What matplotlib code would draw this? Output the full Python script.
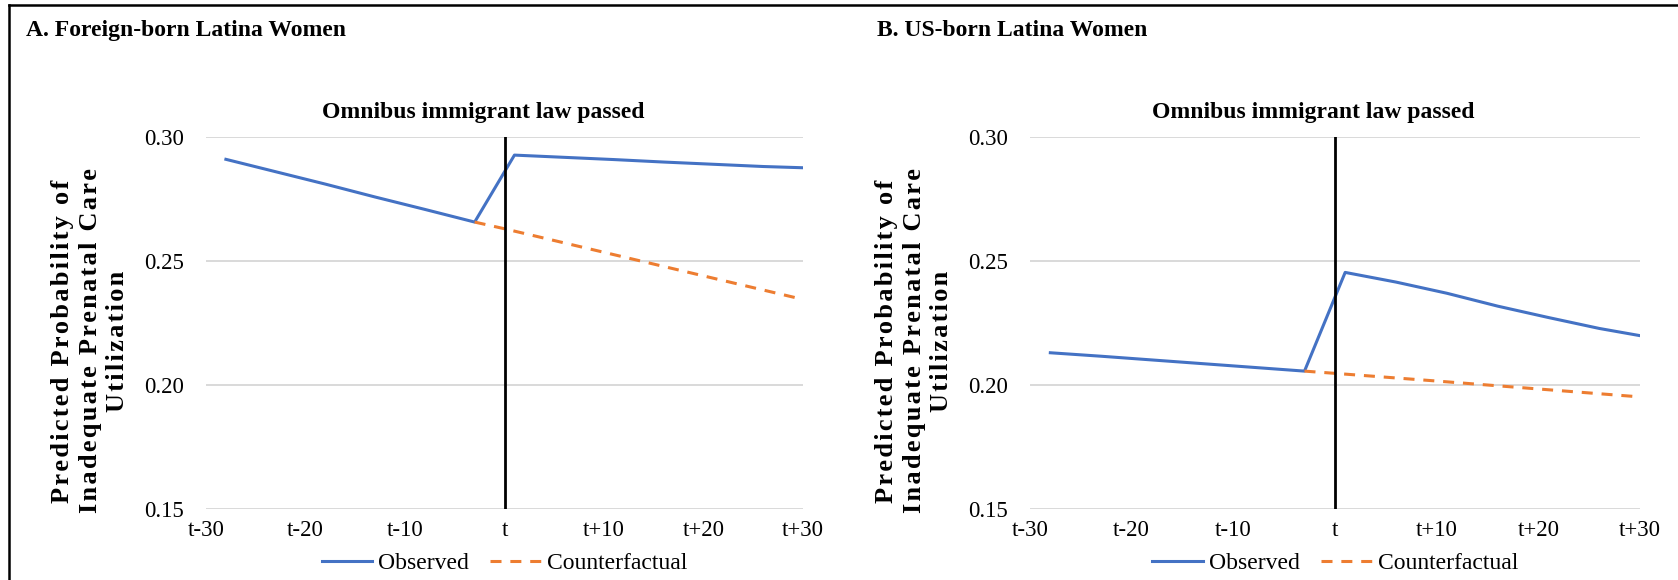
import matplotlib
matplotlib.use('Agg')
import matplotlib.pyplot as plt
from matplotlib.lines import Line2D

plt.rcParams['font.family'] = ['Liberation Serif', 'DejaVu Serif']

# Months relative to passage of the law (t = 0)
obs_months = [-28, -23, -18, -13, -8, -3, 1, 6, 11, 16, 21, 26, 30]
cf_months = [-3, 0, 10, 20, 30]

# A. Foreign-born
fb_observed = [0.2910, 0.2860, 0.2810, 0.2758, 0.2708, 0.2657,
               0.2927, 0.2918, 0.2909, 0.2899, 0.2890, 0.2881, 0.2876]
fb_counterfactual = [0.2657, 0.2630, 0.2535, 0.2440, 0.2345]

# B. US-born
us_observed = [0.2130, 0.2116, 0.2101, 0.2086, 0.2071, 0.2056,
               0.2454, 0.2415, 0.2370, 0.2318, 0.2272, 0.2228, 0.2199]
us_counterfactual = [0.2056, 0.2047, 0.2016, 0.1984, 0.1952]

tick_pos = [-30, -20, -10, 0, 10, 20, 30]
tick_labels = ['t-30', 't-20', 't-10', 't', 't+10', 't+20', 't+30']
y_ticks = [0.15, 0.20, 0.25, 0.30]

ylabel_lines = ['Predicted Probability of', 'Inadequate Prenatal Care', 'Utilization']

panels = [
    ('A. Foreign-born Latina Women', fb_observed, fb_counterfactual),
    ('B. US-born Latina Women', us_observed, us_counterfactual),
]


def spaced(s):
    # open up the letter spacing a little with hair spaces
    return '\u200a'.join(s)


W, H = 1678, 580
fig = plt.figure(figsize=(W / 100, H / 100), dpi=100)

# pixel boxes of the two plot areas: (left, right)
boxes = [(206, 803), (1030, 1640)]
title_x = [26, 877]
ylabel_x = [90, 914]
top_px, bot_px = 137, 509

BLUE = '#4472C4'
ORANGE = '#ED7D31'

for (title, obs, cf), (l, r), tx, yx in zip(panels, boxes, title_x, ylabel_x):
    ax = fig.add_axes([l / W, 1 - bot_px / H, (r - l) / W, (bot_px - top_px) / H])
    ax.set_xlim(-30, 30)
    ax.set_ylim(0.15, 0.30)
    ax.set_yticks(y_ticks)
    ax.set_yticklabels([f'{v:.2f}' for v in y_ticks])
    ax.set_xticks(tick_pos)
    ax.set_xticklabels(tick_labels)
    ax.tick_params(axis='both', length=0, labelsize=16.5)
    ax.tick_params(axis='y', pad=16)
    ax.tick_params(axis='x', pad=8)
    for s in ax.spines.values():
        s.set_visible(False)
    ax.grid(axis='y', color='#D9D9D9', linewidth=1.4)
    ax.set_axisbelow(True)

    ax.plot(obs_months, obs, color=BLUE, linewidth=2.2, label='Observed', zorder=3)
    ax.plot(cf_months, cf, color=ORANGE, linewidth=2.2, dashes=(3.6, 2.9),
            label='Counterfactual', zorder=3)
    ax.axvline(0, color='black', linewidth=2, zorder=4)

    ax.text(0.465, (bot_px - 118) / (bot_px - top_px), 'Omnibus immigrant law passed',
            transform=ax.transAxes, ha='center', va='baseline',
            fontsize=17, fontweight='bold')

    ax.legend(loc='center', bbox_to_anchor=(0.5, -(563 - bot_px) / (bot_px - top_px)),
              ncol=2, frameon=False, fontsize=17, handlelength=2.15,
              handletextpad=0.25, columnspacing=0.9)

    fig.text(tx / W, 1 - 36 / H, title, ha='left', va='baseline',
             fontsize=17, fontweight='bold')
    fig.text(yx / W, 1 - 341 / H, '\n'.join(spaced(t) for t in ylabel_lines),
             rotation=90, ha='center', va='center', fontsize=19,
             fontweight='bold', linespacing=1.27, multialignment='center')

# outer frame: top and left edges only
fig.add_artist(Line2D([9 / W, 1], [1 - 5 / H, 1 - 5 / H], color='black', linewidth=1.8))
fig.add_artist(Line2D([9 / W, 9 / W], [0, 1 - 5 / H], color='black', linewidth=1.8))

fig.savefig('out.png', dpi=100, facecolor='white')
